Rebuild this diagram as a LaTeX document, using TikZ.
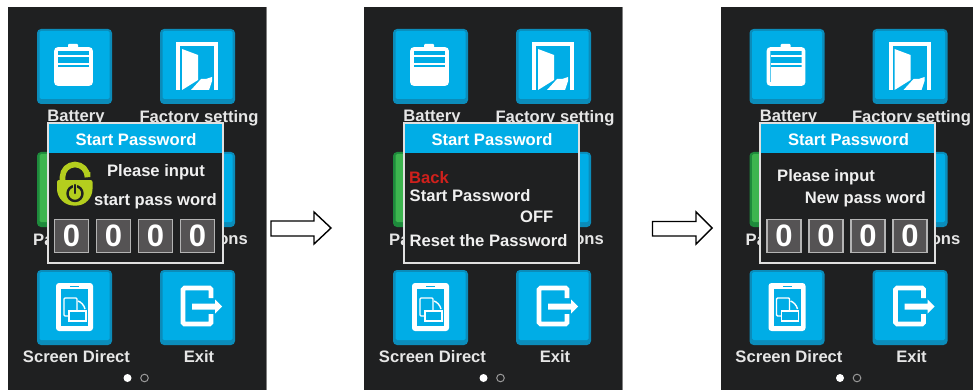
\documentclass[tikz,border=0pt]{standalone}
\usepackage{fontspec}
\setmainfont{Liberation Sans}
\definecolor{scr}{HTML}{1F2021}
\definecolor{btn}{HTML}{00ADE6}
\definecolor{btnedge}{HTML}{0B8CBA}
\definecolor{grn}{HTML}{3DB54F}
\definecolor{grnedge}{HTML}{1E8A3C}
\definecolor{lbl}{HTML}{E6E6E6}
\definecolor{lockc}{HTML}{B4CE1E}
\definecolor{redt}{HTML}{D0201C}
\definecolor{dig}{HTML}{555354}
\definecolor{digedge}{HTML}{B4B4B4}
\tikzset{
  lab/.style={inner sep=0pt,text=lbl,font=\bfseries\fontsize{16.6}{16.6}\selectfont},
  dlg/.style={lab,text=white!94!black},
  head/.style={inner sep=0pt,text=white,font=\bfseries\fontsize{16.6}{16.6}\selectfont},
  digbox/.style={draw=digedge,fill=dig,line width=1.2pt,minimum width=34pt,minimum height=33pt,inner sep=0pt,text=white,font=\bfseries\fontsize{31}{31}\selectfont},
  bigarrow/.style={draw=black,fill=white,line width=1.4pt,miter limit=10},
  ic/.style={draw=white,line width=3.6pt,rounded corners=2pt},
}
\newcommand{\btnat}[4]{% x y fill edge
  \fill[#4,rounded corners=4pt] (#1,#2) rectangle ++(75,75);
  \fill[#3,rounded corners=1.5pt] (#1+2.5,#2+2) rectangle ++(70,68);
}
\newcommand{\scrbase}[1]{%
  \fill[scr] (8,7) rectangle (266,392);
  \draw[gray,line width=0.8pt] (266,7) -- (266,392);
  \btnat{37}{29}{btn}{btnedge}
  \btnat{160}{29}{btn}{btnedge}
  \btnat{37}{152}{grn}{grnedge}
  \btnat{160}{152}{btn}{btnedge}
  \btnat{37}{270}{btn}{btnedge}
  \btnat{160}{270}{btn}{btnedge}
  % battery
  \fill[white,rounded corners=1pt] (68,44) rectangle (78,49);
  \draw[ic] (56,49) rectangle (91,84);
  \fill[white] (58,55) rectangle (89,57.5);
  \fill[white] (58,63) rectangle (89,65.5);
  \fill[white] (58,67.5) rectangle (89,84);
  % door
  \draw[draw=white,line width=4pt,miter limit=10] (178,90) -- (178,44) -- (216,44) -- (216,90);
  \fill[white] (182,49) -- (198,55) -- (198,80) -- (182,90) -- cycle;
  \fill[white] (191,90) -- (201,79) -- (206,79) -- (212,77) -- (212,81) -- (209,90) -- cycle;
  % tablet
  \fill[white,rounded corners=3pt] (56,283) rectangle (93,331);
  \fill[btn] (61,289) rectangle (88,326);
  \fill[btn] (70,285.5) rectangle (79,286.7);
  \draw[white,line width=1.4pt,rounded corners=1pt] (64,298) rectangle (77,316);
  \draw[white,fill=btn,line width=1.4pt] (69,311) rectangle (86,321);
  \draw[white,line width=1.4pt] (78,301) .. controls (81,302) and (84,305) .. (85,309);
  % exit
  \draw[draw=white,line width=4.6pt,rounded corners=1.5pt] (211,298) -- (211,288) -- (183,288) -- (183,324) -- (211,324) -- (211,314);
  \fill[white] (192,303.5) -- (215,303.5) -- (215,299.5) -- (222,306.5) -- (215,313.5) -- (215,309.5) -- (192,309.5) -- cycle;
  % labels
  \node[lab] (#1bat) at (76,118) {Battery};
  \node[lab] (#1fac) at (199,118) {Factory setting};
  \node[lab,anchor=west] (#1pa) at (33,240) {Pa};
  \node[lab,anchor=east] (#1ons) at (248,240) {ons};
  \node[lab] (#1scr) at (76.5,357) {Screen Direct};
  \node[lab] (#1ext) at (199,357) {Exit};
  \fill[white] (127.5,378) circle (4pt);
  \draw[gray!80,line width=1pt] (144.5,378) circle (3.8pt);
  % dialog
  \fill[scr] (47,122) rectangle (222.5,263);
  \fill[btn] (47,124) rectangle (222.5,153);
  \draw[white!88!black,line width=2pt] (47.5,123) rectangle (222.5,263);
  \node[head] (#1tit) at (136,139.5) {Start Password};
}
\newcommand{\digits}[1]{%
  \node[digbox] (#1a) at (71.5,236) {0};
  \node[digbox] (#1b) at (113.5,236) {0};
  \node[digbox] (#1c) at (155.5,236) {0};
  \node[digbox] (#1d) at (197.5,236) {0};
}
\begin{document}
\begin{tikzpicture}[x=1pt,y=-1pt]
\path[use as bounding box,clip] (0,0) rectangle (973,390);
\fill[white] (0,0) rectangle (973,390);
\begin{scope}
  \scrbase{p}
  \draw[lockc,line width=5.6pt] (62.5,181) -- (62.5,177) arc[start angle=180,end angle=360,radius=12.5] -- (87.5,172);
  \fill[lockc,rounded corners=2pt] (57,180) -- (92.5,180) -- (92.5,187) .. controls (92.5,198) and (85,205.5) .. (75,205.5) .. controls (65,205.5) and (57,198) .. (57,187) -- cycle;
  \draw[scr,line width=2.4pt] (75,193.5) circle (7.5pt);
  \draw[lockc,line width=4.5pt] (75,183) -- (75,193);
  \draw[scr,line width=2.4pt,line cap=round] (75,185) -- (75,193);
  \node[dlg] (pl1) at (156,172) {Please input};
  \node[dlg] (pl2) at (155.5,201) {start pass word};
  \digits{pd}
\end{scope}
\begin{scope}[xshift=356pt]
  \scrbase{q}
  \node[lab,text=redt,anchor=west] (qback) at (53,177.5) {Back};
  \node[dlg,anchor=west] (qsp) at (53.5,196) {Start Password};
  \node[dlg,anchor=east] (qoff) at (197.5,216.5) {OFF};
  \node[dlg,anchor=west] (qres) at (53.5,240.5) {Reset the Password};
\end{scope}
\begin{scope}[xshift=712.5pt]
  \scrbase{r}
  \node[dlg,anchor=west] (rl1) at (64.5,177) {Please input};
  \node[dlg,anchor=east] (rl2) at (213.5,199) {New pass word};
  \digits{rd}
\end{scope}
\draw[bigarrow] (271,221) -- (314,221) -- (314,212) -- (331,228) -- (314,244) -- (314,236) -- (271,236) -- cycle;
\draw[bigarrow] (652.5,221.5) -- (696,221.5) -- (696,212) -- (712,228) -- (696,244) -- (696,236) -- (652.5,236) -- cycle;
\end{tikzpicture}
\end{document}
